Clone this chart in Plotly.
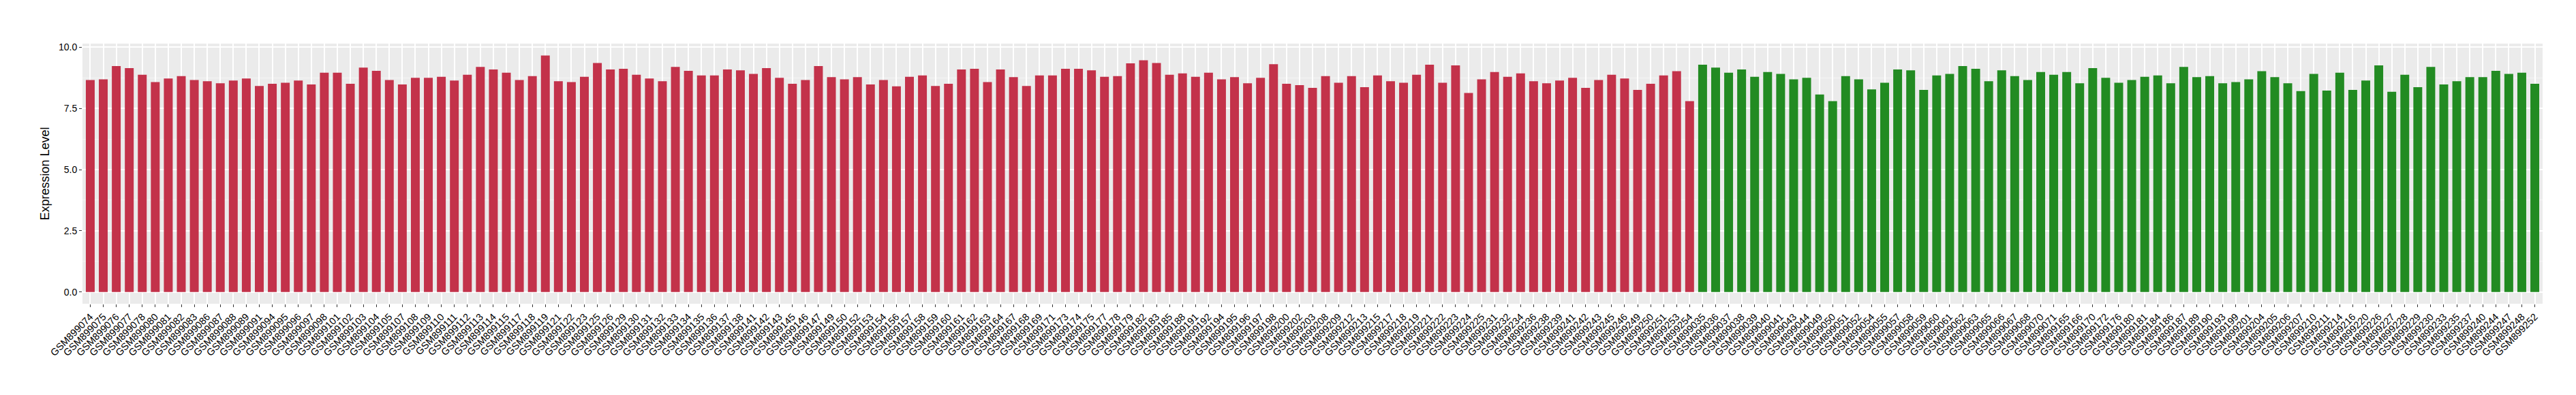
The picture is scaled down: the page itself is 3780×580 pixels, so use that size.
import plotly.graph_objects as go

red_samples = ["GSM899074","GSM899075","GSM899076","GSM899077","GSM899078","GSM899080","GSM899081","GSM899082","GSM899083","GSM899086","GSM899087",
"GSM899088","GSM899089","GSM899091","GSM899094","GSM899095","GSM899096","GSM899097","GSM899098","GSM899101","GSM899102","GSM899103","GSM899104","GSM899105","GSM899107","GSM899108","GSM899109",
"GSM899110","GSM899111","GSM899112","GSM899113","GSM899114","GSM899115","GSM899117","GSM899118","GSM899119","GSM899121","GSM899122","GSM899123","GSM899125","GSM899126","GSM899129","GSM899130",
"GSM899131","GSM899132","GSM899133","GSM899134","GSM899135","GSM899136","GSM899137","GSM899138","GSM899141","GSM899142","GSM899143","GSM899145","GSM899146","GSM899147","GSM899149",
"GSM899150","GSM899152","GSM899153","GSM899154","GSM899156","GSM899157","GSM899158","GSM899159","GSM899160","GSM899161","GSM899162","GSM899163","GSM899164","GSM899167","GSM899168","GSM899169",
"GSM899171","GSM899173","GSM899174","GSM899175","GSM899177","GSM899178","GSM899179","GSM899182","GSM899183","GSM899185","GSM899188","GSM899191","GSM899192","GSM899194","GSM899195","GSM899196",
"GSM899197","GSM899198","GSM899200","GSM899202","GSM899203","GSM899208","GSM899209","GSM899212","GSM899213","GSM899215","GSM899217","GSM899218","GSM899219","GSM899221","GSM899222","GSM899223",
"GSM899224","GSM899225","GSM899231","GSM899232","GSM899234","GSM899236","GSM899238","GSM899239","GSM899241","GSM899242","GSM899243","GSM899245","GSM899246","GSM899249","GSM899250",
"GSM899251","GSM899253","GSM899254"]
red_values = [8.66,8.69,9.23,9.15,8.88,8.58,8.72,8.82,8.66,8.61,8.53,
8.64,8.72,8.42,8.51,8.55,8.64,8.48,8.96,8.96,8.51,9.17,9.04,8.66,8.48,8.75,8.75,
8.79,8.64,8.88,9.20,9.09,8.96,8.66,8.82,9.66,8.61,8.58,8.79,9.36,9.09,9.12,8.88,
8.72,8.61,9.20,9.04,8.85,8.85,9.09,9.06,8.91,9.15,8.75,8.51,8.66,9.23,8.78,
8.69,8.78,8.48,8.66,8.40,8.79,8.85,8.42,8.51,9.09,9.12,8.58,9.09,8.78,8.42,8.85,
8.85,9.12,9.12,9.06,8.79,8.82,9.34,9.47,9.36,8.88,8.93,8.79,8.96,8.69,8.78,8.53,
8.75,9.31,8.51,8.45,8.34,8.82,8.55,8.82,8.37,8.85,8.61,8.55,8.88,9.29,8.55,9.26,
8.13,8.69,8.99,8.79,8.93,8.61,8.53,8.64,8.75,8.34,8.66,8.88,8.72,8.26,8.51,
8.85,9.02,7.80]

green_samples = ["GSM899035","GSM899036","GSM899037","GSM899038","GSM899039","GSM899040","GSM899041","GSM899043","GSM899044","GSM899049","GSM899050","GSM899051","GSM899052",
"GSM899054","GSM899055","GSM899057","GSM899058","GSM899059","GSM899060","GSM899061","GSM899062","GSM899063","GSM899065","GSM899066","GSM899067","GSM899068","GSM899070","GSM899071","GSM899165",
"GSM899166","GSM899170","GSM899172","GSM899176","GSM899180","GSM899181","GSM899184","GSM899186","GSM899187","GSM899189","GSM899190","GSM899193","GSM899199","GSM899201","GSM899204","GSM899205",
"GSM899206","GSM899207","GSM899210","GSM899211","GSM899214","GSM899216","GSM899220","GSM899226","GSM899227","GSM899228","GSM899229","GSM899230","GSM899233","GSM899235","GSM899237","GSM899240","GSM899244","GSM899247","GSM899248","GSM899252"]
green_values = [9.29,9.17,8.96,9.09,8.79,8.99,8.91,8.69,8.75,8.07,7.80,8.82,8.69,
8.28,8.55,9.09,9.06,8.26,8.85,8.91,9.23,9.12,8.61,9.06,8.82,8.66,8.99,8.88,8.99,
8.53,9.15,8.75,8.55,8.66,8.79,8.85,8.53,9.20,8.78,8.82,8.53,8.58,8.69,9.02,8.78,
8.53,8.21,8.91,8.23,8.96,8.26,8.64,9.26,8.18,8.88,8.37,9.20,8.48,8.61,8.78,8.78,9.04,8.91,8.96,8.51]

y_ticks = [0, 2.5, 5, 7.5, 10]
y_tick_labels = ["0.0", "2.5", "5.0", "7.5", "10.0"]

RED = "#C3324A"
GREEN = "#228B22"
all_samples = red_samples + green_samples
n = len(all_samples)

fig = go.Figure()
fig.add_trace(go.Bar(x=red_samples, y=red_values, marker=dict(color=RED, line=dict(width=0)),
                     width=0.68, showlegend=False))
fig.add_trace(go.Bar(x=green_samples, y=green_values, marker=dict(color=GREEN, line=dict(width=0)),
                     width=0.68, showlegend=False))

fig.update_layout(
    width=3780, height=580,
    margin=dict(l=113, r=57, t=56, b=142),
    paper_bgcolor="white", plot_bgcolor="#EBEBEB",
    barmode="overlay",
    font=dict(family="Liberation Sans, Arial, sans-serif", color="black"),
)
fig.update_xaxes(
    type="category", categoryorder="array", categoryarray=all_samples,
    tickmode="array", tickvals=all_samples, ticktext=all_samples,
    range=[-0.6, n - 1 + 0.6],
    showgrid=True, gridcolor="white", gridwidth=1.5,
    ticks="outside", ticklen=4, tickcolor="#333333", tickwidth=1,
    tickangle=-45, tickfont=dict(size=14.5, color="black"),
    showline=False, zeroline=False, automargin=False,
)
fig.update_yaxes(
    range=[-0.483, 10.15],
    tickmode="array", tickvals=y_ticks, ticktext=y_tick_labels,
    showgrid=True, gridcolor="white", gridwidth=1.5,
    minor=dict(tickmode="array", tickvals=[1.25, 3.75, 6.25, 8.75], showgrid=True,
               gridcolor="#F5F5F5", gridwidth=0.8, ticks=""),
    ticks="outside", ticklen=4, tickcolor="#333333", tickwidth=1,
    tickfont=dict(size=14, color="black"),
    title=dict(text="Expression Level", font=dict(size=18, color="black"), standoff=8),
    showline=False, zeroline=False, automargin=False,
)

fig.write_html("out.html")
